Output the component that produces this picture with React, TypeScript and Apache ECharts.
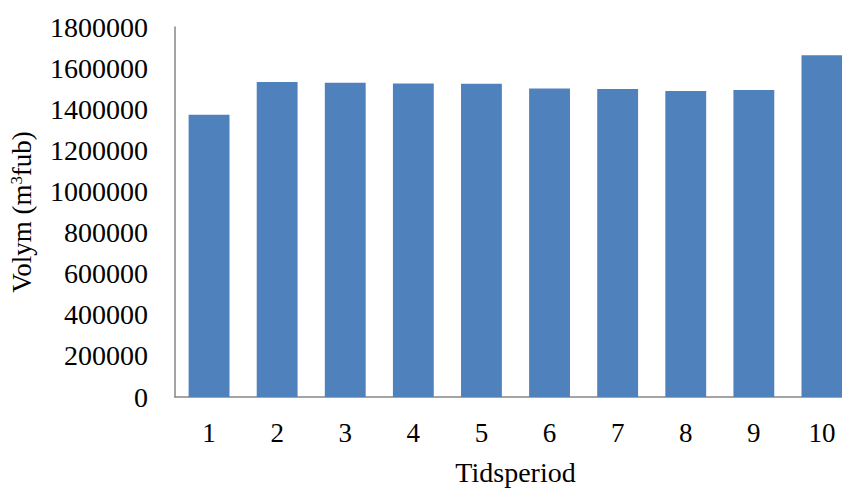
import React, { useEffect, useRef } from "react";
import * as echarts from "echarts";

const categories = ["1", "2", "3", "4", "5", "6", "7", "8", "9", "10"];
const volumes = [1373000, 1532000, 1529000, 1525000, 1524000, 1501000, 1498000, 1489000, 1493000, 1662000];
const yMin = 0;
const yMax = 1800000;
const yInterval = 200000;

const FONT = "'Liberation Serif', 'Times New Roman', serif";

export default function App() {
  const ref = useRef<HTMLDivElement>(null);
  useEffect(() => {
    if (!ref.current) return;
    const chart = echarts.init(ref.current, null, { renderer: "svg" });
    chart.setOption({
      animation: false,
      backgroundColor: "#ffffff",
      grid: { left: 175, right: 14, top: 27, bottom: 91, containLabel: false },
      xAxis: {
        type: "category",
        data: categories,
        name: "Tidsperiod",
        nameLocation: "middle",
        nameGap: 61,
        nameTextStyle: { fontFamily: FONT, fontSize: 28, color: "#000" },
        axisLine: { show: true, lineStyle: { color: "#868686", width: 1.5 } },
        axisTick: { show: false },
        axisLabel: { fontFamily: FONT, fontSize: 27, color: "#000", margin: 22 },
      },
      yAxis: {
        type: "value",
        min: yMin,
        max: yMax,
        interval: yInterval,
        name: "Volym (m{sup|3}fub)",
        nameLocation: "middle",
        nameGap: 140,
        nameRotate: 90,
        nameTextStyle: {
          fontFamily: FONT,
          fontSize: 27,
          color: "#000",
          rich: { sup: { fontFamily: FONT, fontSize: 17, color: "#000", verticalAlign: "top", padding: [0, 0, 10, 0] } },
        },
        axisLine: { show: true, lineStyle: { color: "#868686", width: 1.5 } },
        axisTick: { show: false },
        splitLine: { show: false },
        axisLabel: {
          fontFamily: FONT,
          fontSize: 28,
          color: "#000",
          margin: 27,
          formatter: (v: number) => String(v),
        },
      },
      series: [
        {
          type: "bar",
          data: volumes,
          barCategoryGap: "40%",
          itemStyle: { color: "#4F81BD" },
        },
      ],
    });
    return () => chart.dispose();
  }, []);
  return (
    <div style={{ width: 842, height: 491, position: "absolute", left: 0, top: 0, overflow: "hidden" }}>
      <div ref={ref} style={{ width: 870, height: 491 }} />
    </div>
  );
}
